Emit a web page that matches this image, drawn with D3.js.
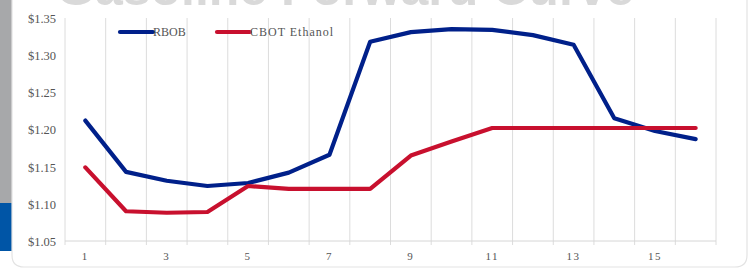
<!DOCTYPE html>
<html><head><meta charset="utf-8">
<script src="https://cdn.jsdelivr.net/npm/d3@7"></script>
<style>html,body{margin:0;padding:0;background:#fff;}svg{display:block;}</style>
</head><body>
<svg id="c" width="751" height="275"></svg>
<script>
const categories = [1,2,3,4,5,6,7,8,9,10,11,12,13,14,15,16];
const rbob = [1.212,1.143,1.131,1.124,1.128,1.142,1.166,1.318,1.331,1.335,1.334,1.327,1.314,1.215,1.198,1.187];
const ethanol = [1.149,1.090,1.088,1.089,1.124,1.120,1.120,1.120,1.165,1.184,1.202,1.202,1.202,1.202,1.202,1.202];
const yTicks = [1.05,1.10,1.15,1.20,1.25,1.30,1.35];
const xTickLabels = [1,3,5,7,9,11,13,15];
const seriesNames = ["RBOB","CBOT Ethanol"];
const colors = ["#00208a","#c8102e"];

const svg = d3.select("#c");
// side bars
svg.append("rect").attr("x",0).attr("y",0).attr("width",12).attr("height",203).attr("fill","#a7a8aa");
svg.append("rect").attr("x",0).attr("y",203).attr("width",12).attr("height",48).attr("fill","#0055a6");
// card
svg.append("path").attr("d","M12,-5 H747 V255 Q747,267 735,267 H24 Q12,267 12,255 Z")
  .attr("fill","#fff").attr("stroke","#e3e3e3").attr("stroke-width",1.2);
// title (cut off at top edge as in the reference)
svg.append("text").attr("x",345).attr("y",5).attr("text-anchor","middle")
  .attr("font-family","Arial, Liberation Sans, sans-serif").attr("font-weight","bold").attr("font-size",50)
  .attr("fill","#d9d9d9").text("Gasoline Forward Curve");

const pL=65, pR=716, pT=18, pB=241;
const x = d3.scaleBand().domain(categories).range([pL,pR]);
const y = d3.scaleLinear().domain([1.05,1.35]).range([pB,pT]);

// vertical gridlines at category boundaries
const bounds = categories.map(c=>x(c)).concat([pR]);
svg.append("g").selectAll("line").data(bounds).join("line")
  .attr("x1",d=>d).attr("x2",d=>d).attr("y1",pT).attr("y2",pB+4)
  .attr("stroke","#dcdcdc").attr("stroke-width",1);
svg.append("line").attr("x1",pL).attr("x2",pR).attr("y1",pB).attr("y2",pB)
  .attr("stroke","#d6d6d6").attr("stroke-width",1);

// y axis labels
const yAxis = d3.axisLeft(y).tickValues(yTicks).tickFormat(d=>"$"+d.toFixed(2)).tickSize(0).tickPadding(0);
const gy = svg.append("g").attr("transform","translate(56,0)").call(yAxis);
gy.select(".domain").remove();
gy.selectAll("text").attr("font-family","Liberation Serif, DejaVu Serif, serif").attr("font-size",12.5).attr("fill","#555").attr("dy","0.35em");

// x axis labels
const xAxis = d3.axisBottom(x).tickValues(xTickLabels).tickSize(0).tickPadding(0);
const gx = svg.append("g").attr("transform","translate(0,252)").call(xAxis);
gx.select(".domain").remove();
gx.selectAll("text").attr("font-family","Liberation Serif, DejaVu Serif, serif").attr("font-size",11).attr("fill","#555").attr("letter-spacing","1.5px");

// lines
const line = d3.line().x((d,i)=>x(categories[i])+x.bandwidth()/2).y(d=>y(d));
[rbob, ethanol].forEach((s,i)=>{
  svg.append("path").datum(s).attr("d",line).attr("fill","none")
    .attr("stroke",colors[i]).attr("stroke-width",4.2).attr("stroke-linejoin","round").attr("stroke-linecap","round");
});

// legend
const legX = [120, 217];
const legSpacing = ["0px","1px"];
seriesNames.forEach((n,i)=>{
  svg.append("line").attr("x1",legX[i]).attr("x2",legX[i]+33).attr("y1",32).attr("y2",32)
    .attr("stroke",colors[i]).attr("stroke-width",4.2).attr("stroke-linecap","round");
  svg.append("text").attr("x",legX[i]+33).attr("y",36).attr("font-family","Liberation Serif, DejaVu Serif, serif")
    .attr("font-size",12).attr("fill","#555").attr("letter-spacing",legSpacing[i]).text(n);
});
</script>
</body></html>
